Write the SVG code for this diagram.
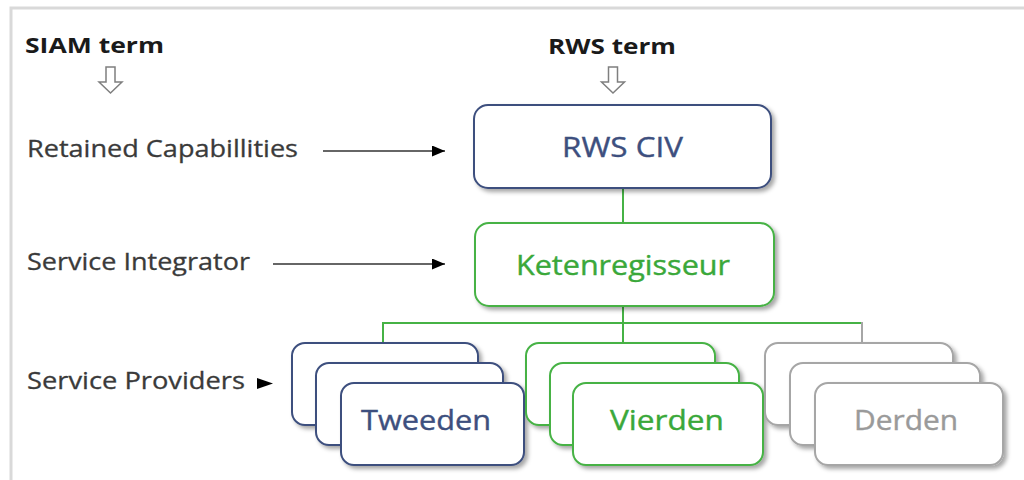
<svg xmlns="http://www.w3.org/2000/svg" width="1024" height="480" viewBox="0 0 1024 480">
<style>
  text { font-family: "Open Sans", "Liberation Sans", sans-serif; }
  .hdr { font-size: 22px; font-weight: bold; fill: #1a1a1a; }
  .lbl { font-size: 24px; fill: #3a3a3a; stroke: #3a3a3a; stroke-width: 0.3; }
  .node { font-size: 28px; text-anchor: middle; stroke-width: 0.4; }
  .navy rect { fill: #ffffff; stroke: #3d4f7e; stroke-width: 2; }
  .green rect { fill: #ffffff; stroke: #46b245; stroke-width: 2; }
  .gray rect { fill: #ffffff; stroke: #a6a6a6; stroke-width: 2; }
  .tnavy { fill: #3d4f7e; stroke: #3d4f7e; }
  .tgreen { fill: #3aa83a; stroke: #3aa83a; }
  .tgray { fill: #9a9a9a; stroke: #9a9a9a; }
  .conn { stroke: #46b245; stroke-width: 2; fill: none; }
  .arr { stroke: #333333; stroke-width: 1.5; fill: none; }
  .hollow { fill: #ffffff; stroke: #7f7f7f; stroke-width: 1.5; }
</style>
<defs>
  <filter id="sh" x="-10%" y="-10%" width="125%" height="130%">
    <feDropShadow dx="3" dy="3" stdDeviation="2" flood-color="#000000" flood-opacity="0.35"/>
  </filter>
  <marker id="ah" viewBox="0 0 10 10" refX="10" refY="5" markerWidth="13" markerHeight="11" markerUnits="userSpaceOnUse" orient="auto" preserveAspectRatio="none">
    <path d="M0,0 L10,5 L0,10 z" fill="#000000"/>
  </marker>
</defs>
<rect width="1024" height="480" fill="#ffffff"/>
<!-- frame -->
<path d="M11,480 V8 H1024" stroke="#d9d9d9" stroke-width="3" fill="none"/>

<!-- headings and labels -->
<g id="headings">
  <text class="hdr" x="25" y="53" textLength="139" lengthAdjust="spacingAndGlyphs">SIAM term</text>
  <text class="hdr" x="548" y="54" textLength="128" lengthAdjust="spacingAndGlyphs">RWS term</text>
  <path class="hollow" d="M106,67 H115 V82 H122 L110.5,93 L99,82 H106 Z"/>
  <path class="hollow" d="M608.5,67 H617.5 V82 H624.5 L613,93 L601.5,82 H608.5 Z"/>
</g>
<g id="labels">
  <text class="lbl" x="27" y="157" textLength="271" lengthAdjust="spacingAndGlyphs">Retained Capabillities</text>
  <text class="lbl" x="27" y="270" textLength="223" lengthAdjust="spacingAndGlyphs">Service Integrator</text>
  <text class="lbl" x="27" y="389" textLength="218" lengthAdjust="spacingAndGlyphs">Service Providers</text>
</g>

<!-- connectors -->
<g id="connectors">
  <line class="arr" x1="323" y1="151" x2="445" y2="151" marker-end="url(#ah)"/>
  <line class="arr" x1="273" y1="264" x2="445" y2="264" marker-end="url(#ah)"/>
  <path d="M257,378 L273,383.5 L257,389 Z" fill="#000000"/>
  <line class="conn" x1="623" y1="188" x2="623" y2="223"/>
  <line class="conn" x1="623" y1="306" x2="623" y2="343"/>
  <line class="conn" x1="383" y1="323" x2="862" y2="323"/>
  <line class="conn" x1="383" y1="322" x2="383" y2="343"/>
  <line x1="862" y1="322" x2="862" y2="343" stroke="#a6a6a6" stroke-width="2"/>
</g>

<!-- nodes -->
<g id="rws-civ" class="navy">
  <rect x="474" y="105" width="297" height="83" rx="14" filter="url(#sh)"/>
  <text class="node tnavy" x="622.5" y="157" textLength="121" lengthAdjust="spacingAndGlyphs">RWS CIV</text>
</g>
<g id="ketenregisseur" class="green">
  <rect x="475" y="223" width="299" height="83" rx="14" filter="url(#sh)"/>
  <text class="node tgreen" x="623" y="275" textLength="214" lengthAdjust="spacingAndGlyphs">Ketenregisseur</text>
</g>
<g id="tweeden" class="navy">
  <rect x="292" y="343" width="186" height="82" rx="13" filter="url(#sh)"/>
  <rect x="316" y="363" width="187" height="82" rx="13" filter="url(#sh)"/>
  <rect x="341" y="383" width="183" height="82" rx="13" filter="url(#sh)"/>
  <text class="node tnavy" x="426" y="430" textLength="130" lengthAdjust="spacingAndGlyphs">Tweeden</text>
</g>
<g id="vierden" class="green">
  <rect x="526" y="343" width="189" height="82" rx="13" filter="url(#sh)"/>
  <rect x="550" y="363" width="189" height="82" rx="13" filter="url(#sh)"/>
  <rect x="573" y="383" width="190" height="82" rx="13" filter="url(#sh)"/>
  <text class="node tgreen" x="667" y="430" textLength="114" lengthAdjust="spacingAndGlyphs">Vierden</text>
</g>
<g id="derden" class="gray">
  <rect x="765" y="343" width="188" height="82" rx="13" filter="url(#sh)"/>
  <rect x="790" y="363" width="190" height="82" rx="13" filter="url(#sh)"/>
  <rect x="815" y="383" width="188" height="82" rx="13" filter="url(#sh)"/>
  <text class="node tgray" x="906" y="430" textLength="104" lengthAdjust="spacingAndGlyphs">Derden</text>
</g>
</svg>
